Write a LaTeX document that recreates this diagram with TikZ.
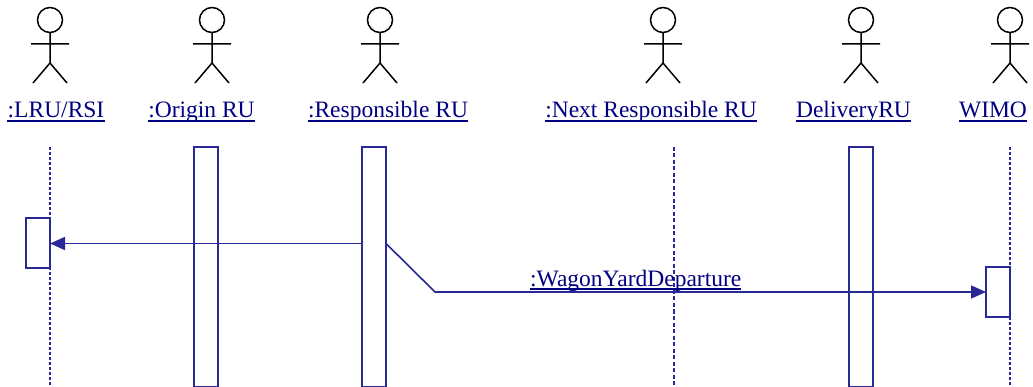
\documentclass[tikz,border=0pt]{standalone}
\usepackage{fontspec}
\setmainfont{Liberation Serif}
\usetikzlibrary{arrows.meta}
\definecolor{umlblue}{RGB}{40,40,150}
\definecolor{linknavy}{RGB}{0,0,128}
\tikzset{
  actorline/.style={black,line width=1.5pt},
  lbl/.style={text=linknavy,font=\fontsize{23.5}{28}\selectfont,anchor=base,inner sep=0pt},
  ulbl/.style={draw=linknavy,line width=1.4pt},
  actbox/.style={draw=umlblue,line width=2pt,fill=white,inner sep=0pt,outer sep=0pt,anchor=north west,minimum width=24pt},
  lifeline/.style={draw=umlblue,line width=1.6pt,dash pattern=on 3pt off 2pt},
  lifedash/.style={draw=umlblue,line width=1.6pt,dash pattern=on 4pt off 2.5pt},
  msg/.style={draw=umlblue,line width=1.6pt},
  msgarrow/.style={msg,-{Triangle[length=15pt,width=13pt]}},
  actor/.pic={
    \draw[actorline] (0,20) circle[radius=12.5];
    \draw[actorline] (0,32.5) -- (0,63) (-19,44) -- (19,44) (-17,83) -- (0,63) -- (17,83);
  }
}
\begin{document}
\begin{tikzpicture}[x=1pt,y=-1pt]
\useasboundingbox (0,0) rectangle (1033,387);
% actors
\pic (lrua) at (50,0) {actor};
\pic (origa) at (212,0) {actor};
\pic (respa) at (380,0) {actor};
\pic (nexta) at (663,0) {actor};
\pic (dela) at (861,0) {actor};
\pic (wimoa) at (1010,0) {actor};
% labels
\node[lbl] (lrul) at (56,118) {:LRU/RSI};
\node[lbl] (origl) at (201.5,118) {:Origin RU};
\node[lbl] (respl) at (388,118) {:Responsible RU};
\node[lbl] (nextl) at (651,118) {:Next Responsible RU};
\node[lbl] (dell) at (853.5,118) {DeliveryRU};
\node[lbl] (wimol) at (993,118) {WIMO};
\foreach \n in {lrul,origl,respl,nextl,dell,wimol}
  \draw[ulbl] ([yshift=-3pt]\n.base west) -- ([yshift=-3pt]\n.base east);
% lifelines
\coordinate (lrut) at (50,147); \coordinate (lrub) at (50,387);
\coordinate (nextt) at (674,147); \coordinate (nextb) at (674,387);
\coordinate (wimot) at (1010,147); \coordinate (wimob) at (1010,387);
\draw[lifeline] (lrut) -- (lrub);
\draw[lifedash] (nextt) -- (nextb);
\draw[lifeline] (wimot) -- (wimob);
% activation boxes
\node[actbox,minimum height=239.5pt] (origbox) at (194,147) {};
\node[actbox,minimum height=239.5pt] (respbox) at (362,147) {};
\node[actbox,minimum height=239.5pt] (delbox) at (848.5,147) {};
\node[actbox,minimum height=50pt] (lrubox) at (26,218.5) {};
\node[actbox,minimum height=50pt] (wimobox) at (986,267) {};
% messages
\draw[msgarrow] (respbox.west |- lrubox.east) -- (lrubox.east);
\coordinate (bend) at (435,292);
\draw[msgarrow] (respbox.east |- lrubox.east) -- (bend) -- (wimobox.west);
\node[lbl,anchor=base west] (wyd) at (530,287) {:WagonYardDeparture};
\draw[ulbl,line width=2pt] ([yshift=-2.5pt]wyd.base west) -- ([yshift=-2.5pt]wyd.base east);
\end{tikzpicture}
\end{document}
